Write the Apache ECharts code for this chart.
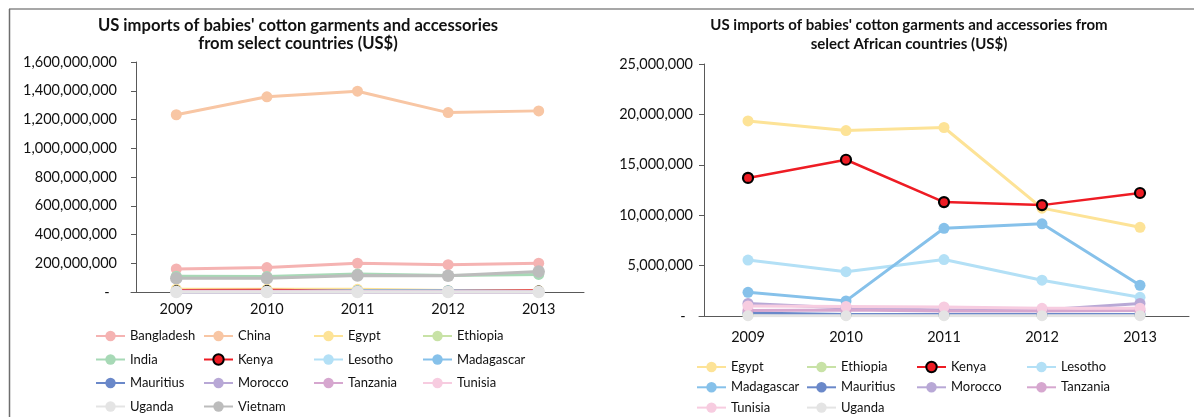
<!DOCTYPE html>
<html><head><meta charset="utf-8">
<script src="https://cdn.jsdelivr.net/npm/echarts@6/dist/echarts.min.js"></script>
<style>html,body{margin:0;padding:0;background:#fff}#c{width:1194px;height:417px}</style>
</head><body><div id="c"></div>
<script>
// ---------------- data ----------------
const years = ['2009', '2010', '2011', '2012', '2013'];
const leftCountries = ['Bangladesh','China','Egypt','Ethiopia','India','Kenya','Lesotho','Madagascar','Mauritius','Morocco','Tanzania','Tunisia','Uganda','Vietnam'];
const rightCountries = ['Egypt','Ethiopia','Kenya','Lesotho','Madagascar','Mauritius','Morocco','Tanzania','Tunisia','Uganda'];

const bangladesh = [160e6, 170e6, 200e6, 190e6, 200e6];
const china      = [1233e6, 1358e6, 1397e6, 1248e6, 1260e6];
const egypt      = [19.35e6, 18.4e6, 18.7e6, 10.7e6, 8.8e6];
const ethiopia   = [0.1e6, 0.08e6, 0.1e6, 0.1e6, 0.12e6];
const india      = [110e6, 108e6, 125e6, 115e6, 122e6];
const kenya      = [13.7e6, 15.5e6, 11.3e6, 11.0e6, 12.2e6];
const lesotho    = [5.55e6, 4.4e6, 5.6e6, 3.55e6, 1.85e6];
const madagascar = [2.35e6, 1.5e6, 8.7e6, 9.15e6, 3.05e6];
const mauritius  = [0.3e6, 0.15e6, 0.15e6, 0.15e6, 0.15e6];
const morocco    = [1.25e6, 0.8e6, 0.6e6, 0.6e6, 1.25e6];
const tanzania   = [0.55e6, 0.6e6, 0.5e6, 0.5e6, 0.55e6];
const tunisia    = [1.0e6, 0.95e6, 0.9e6, 0.76e6, 0.78e6];
const uganda     = [0.03e6, 0.03e6, 0.03e6, 0.03e6, 0.03e6];
const vietnam    = [95e6, 95e6, 115e6, 113e6, 142e6];

const leftYMax = 1600e6, leftYStep = 200e6;
const rightYMax = 25e6, rightYStep = 5e6;

const leftTitle = "US imports of babies' cotton garments and accessories\nfrom select countries (US$)";
const rightTitle = "US imports of babies' cotton garments and accessories from\nselect African countries (US$)";

const values = {
  Bangladesh: bangladesh, China: china, Egypt: egypt, Ethiopia: ethiopia, India: india,
  Kenya: kenya, Lesotho: lesotho, Madagascar: madagascar, Mauritius: mauritius,
  Morocco: morocco, Tanzania: tanzania, Tunisia: tunisia, Uganda: uganda, Vietnam: vietnam
};

// legend columns (reading order of the reference legends)
const leftLegendCols = [
  ['Bangladesh','India','Mauritius','Uganda'],
  ['China','Kenya','Morocco','Vietnam'],
  ['Egypt','Lesotho','Tanzania'],
  ['Ethiopia','Madagascar','Tunisia']
];
const rightLegendCols = [
  ['Egypt','Madagascar','Tunisia'],
  ['Ethiopia','Mauritius','Uganda'],
  ['Kenya','Morocco'],
  ['Lesotho','Tanzania']
];

// ---------------- styles ----------------
const colors = {
  Bangladesh: '#f5b3b2', China: '#f8c6a4', Egypt: '#fde397', Ethiopia: '#c8e2a6',
  India: '#a7d9b6', Kenya: '#ee1c24', Lesotho: '#b3e0f6', Madagascar: '#86c1ea',
  Mauritius: '#6a88c9', Morocco: '#b8a8d6', Tanzania: '#d6a7cf', Tunisia: '#f7cce0',
  Uganda: '#e4e4e4', Vietnam: '#bcbcbc'
};
const FONT = 'Lato, "Open Sans", sans-serif';
const TXT = '#111';

function fmt(v) {
  if (v === 0) return '-  ';
  return Math.round(v).toLocaleString('en-US');
}

function makeSeries(name, gridIdx) {
  const isKenya = name === 'Kenya';
  let size = isKenya ? 10 : 11;
  if (gridIdx === 0 && isKenya) size = 8;
  if (gridIdx === 0 && (name === 'Uganda' || name === 'Vietnam')) size = 12.5;
  return {
    name, type: 'line', xAxisIndex: gridIdx, yAxisIndex: gridIdx,
    data: values[name],
    symbol: 'circle', symbolSize: size,
    lineStyle: { color: colors[name], width: isKenya ? (gridIdx === 0 ? 2 : 2.5) : 3 },
    itemStyle: isKenya ? { color: colors[name], borderColor: '#000', borderWidth: gridIdx === 0 ? 1.5 : 2.2 }
                       : { color: colors[name], borderWidth: 0 },
    emphasis: { disabled: true },
    animation: false
  };
}

function legendCol(names, left, top, gap) {
  return {
    orient: 'vertical', left, top, padding: 0, itemGap: gap,
    itemWidth: 29, itemHeight: 13, selectedMode: false,
    data: names,
    textStyle: { fontFamily: FONT, fontSize: 13, color: TXT, lineHeight: 16 }
  };
}

const axisLine = { show: true, lineStyle: { color: '#595959', width: 1 } };

const option = {
  backgroundColor: '#fff',
  animation: false,
  title: [
    { text: leftTitle, left: 298, top: 16, padding: 0, textAlign: 'center',
      textStyle: { fontFamily: FONT, fontWeight: 'bold', fontSize: 16.6, color: TXT, lineHeight: 18.5 } },
    { text: rightTitle, left: 909, top: 16, padding: 0, textAlign: 'center',
      textStyle: { fontFamily: FONT, fontWeight: 'bold', fontSize: 15, color: TXT, lineHeight: 19 } }
  ],
  grid: [
    { left: 131, top: 62, width: 453, height: 230 },
    { left: 699, top: 64, width: 490, height: 252 }
  ],
  xAxis: [0, 1].map(i => ({
    type: 'category', gridIndex: i, data: years, boundaryGap: true,
    axisLine, axisTick: { show: false },
    axisLabel: { color: TXT, fontFamily: FONT, fontSize: 14.5, margin: i === 0 ? 10 : 14 },
    splitLine: { show: false }
  })),
  yAxis: [
    { type: 'value', gridIndex: 0, min: 0, max: leftYMax, interval: leftYStep, offset: -5,
      axisLine, axisTick: { show: true, length: 5, lineStyle: { color: '#595959' } },
      axisLabel: { color: TXT, fontFamily: FONT, fontSize: 14.5, margin: 19, formatter: fmt },
      splitLine: { show: false } },
    { type: 'value', gridIndex: 1, min: 0, max: rightYMax, interval: rightYStep, offset: -5,
      axisLine, axisTick: { show: true, length: 5, lineStyle: { color: '#595959' } },
      axisLabel: { color: TXT, fontFamily: FONT, fontSize: 14.5, margin: 11, formatter: fmt },
      splitLine: { show: false } }
  ],
  legend: [
    ...leftLegendCols.map((c, i) => legendCol(c, [95, 203, 313, 422][i], 328, 7.5)),
    ...rightLegendCols.map((c, i) => legendCol(c, [696, 806, 916, 1026][i], 359, 4.3))
  ],
  graphic: [
    { type: 'line', shape: { x1: 9, y1: 9, x2: 1194, y2: 9 }, style: { stroke: '#8a8a8a', lineWidth: 1.5 }, silent: true },
    { type: 'line', shape: { x1: 9.5, y1: 9, x2: 9.5, y2: 417 }, style: { stroke: '#6e6e6e', lineWidth: 1.5 }, silent: true }
  ],
  series: [
    ...leftCountries.map(n => makeSeries(n, 0)),
    ...rightCountries.map(n => makeSeries(n, 1))
  ]
};

const chart = echarts.init(document.getElementById('c'), null, { renderer: 'canvas' });
chart.setOption(option);
</script>
</body></html>
